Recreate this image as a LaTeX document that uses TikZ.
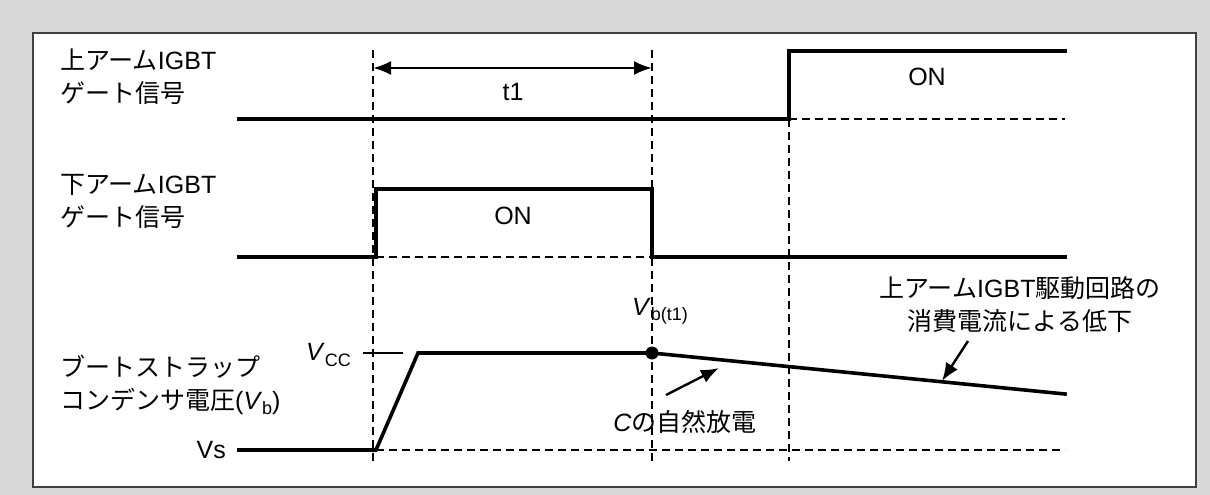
\documentclass[tikz,border=0pt]{standalone}
\usepackage{fontspec}
\setmainfont{Noto Sans CJK JP}
\newfontfamily\latf{Liberation Sans}
\usetikzlibrary{arrows.meta}
\definecolor{bggray}{HTML}{D9D9D9}
\definecolor{framegray}{HTML}{404040}
\newcommand\Lt[1]{{\latf #1}}
\newcommand\Sb[1]{\raisebox{-0.4ex}{\fontsize{18}{18}\selectfont\latf #1}}
\begin{document}
\begin{tikzpicture}[x=1pt,y=-1pt,
  sig/.style={line width=3.6pt, line join=miter, line cap=rect},
  guide/.style={line width=1.4pt, dash pattern=on 8pt off 5pt},
  ann/.style={line width=2.4pt, -{Latex[length=18pt,width=14pt]}},
  dim/.style={line width=2.4pt, {Latex[length=18pt,width=14pt]}-{Latex[length=18pt,width=14pt]}},
  lbl/.style={inner sep=0pt, font=\fontsize{25}{33}\selectfont},
  cl/.style={lbl, align=center},
  ll/.style={lbl, align=left, anchor=west}]
\useasboundingbox (0,0) rectangle (1210,495);
\fill[bggray] (0,0) rectangle (1210,495);
\draw[framegray, line width=1.5pt, fill=white] (33,33) rectangle (1196,487);

% guides
\coordinate (gA1) at (373,50);  \coordinate (gA2) at (373,461);
\coordinate (gB1) at (652,50);  \coordinate (gB2) at (652,461);
\coordinate (gC1) at (789,119); \coordinate (gC2) at (789,461);
\draw[guide] (gA1) -- (gA2);
\draw[guide] (gB1) -- (gB2);
\draw[guide] (gC1) -- (gC2);

% upper arm signal
\coordinate (u0) at (239,119); \coordinate (u1) at (789,119);
\coordinate (u2) at (789,51);  \coordinate (u3) at (1065,51);
\coordinate (u4) at (1065,119);
\draw[guide] (u1) -- (u4);
\draw[sig] (u0) -- (u1) -- (u2) -- (u3);

% lower arm signal
\coordinate (d0) at (239,257); \coordinate (d1) at (376,257);
\coordinate (d2) at (376,189); \coordinate (d3) at (652,189);
\coordinate (d4) at (652,257); \coordinate (d5) at (1065,257);
\draw[guide] (d1) -- (d4);
\draw[sig] (d0) -- (d1) -- (d2) -- (d3) -- (d4) -- (d5);

% bootstrap voltage
\coordinate (v0) at (239,450); \coordinate (v1) at (376,450);
\coordinate (v2) at (418,353); \coordinate (v3) at (652,353);
\coordinate (v4) at (1065,394); \coordinate (v5) at (1065,450);
\draw[guide] (v1) -- (v5);
\draw[sig] (v0) -- (v1) -- (v2) -- (v3) -- (v4);
\fill (v3) circle (6.5pt);

% Vcc tick
\coordinate (k0) at (363,353); \coordinate (k1) at (403,353);
\draw[line width=1.5pt] (k0) -- (k1);

% t1 dimension
\coordinate (t1L) at (373,68); \coordinate (t1R) at (652,68);
\draw[dim] (t1L) -- (t1R);
\node[cl] (t1) at (513,92) {\Lt{t1}};

% labels
\node[ll] (lu) at (60,77) {上アーム\Lt{IGBT}\\ゲート信号};
\node[ll] (ld) at (60,201) {下アーム\Lt{IGBT}\\ゲート信号};
\node[ll] (lv) at (60,385) {ブートストラップ\\コンデンサ電圧\Lt{(\textit{V}\Sb{b})}};
\node[lbl, anchor=east] (vs) at (226,450) {\Lt{Vs}};
\node[lbl, anchor=east] (vcc) at (351,355) {\Lt{\textit{V}\Sb{CC}}};
\node[cl] (onU) at (927,77) {\Lt{ON}};
\node[cl] (onD) at (513,216) {\Lt{ON}};
\node[cl] (vbt) at (660,311) {\Lt{\textit{V}\Sb{b(t1)}}};
\node[cl] (cd) at (685,422) {\Lt{\textit{C}}の自然放電};
\node[cl] (rd) at (1020,305) {上アーム\Lt{IGBT}駆動回路の\\消費電流による低下};

% annotation arrows
\coordinate (a0) at (666,395); \coordinate (a1) at (719,368);
\draw[ann] (a0) -- (a1);
\coordinate (b0) at (968,341); \coordinate (b1) at (942,381);
\draw[ann] (b0) -- (b1);
\end{tikzpicture}
\end{document}
